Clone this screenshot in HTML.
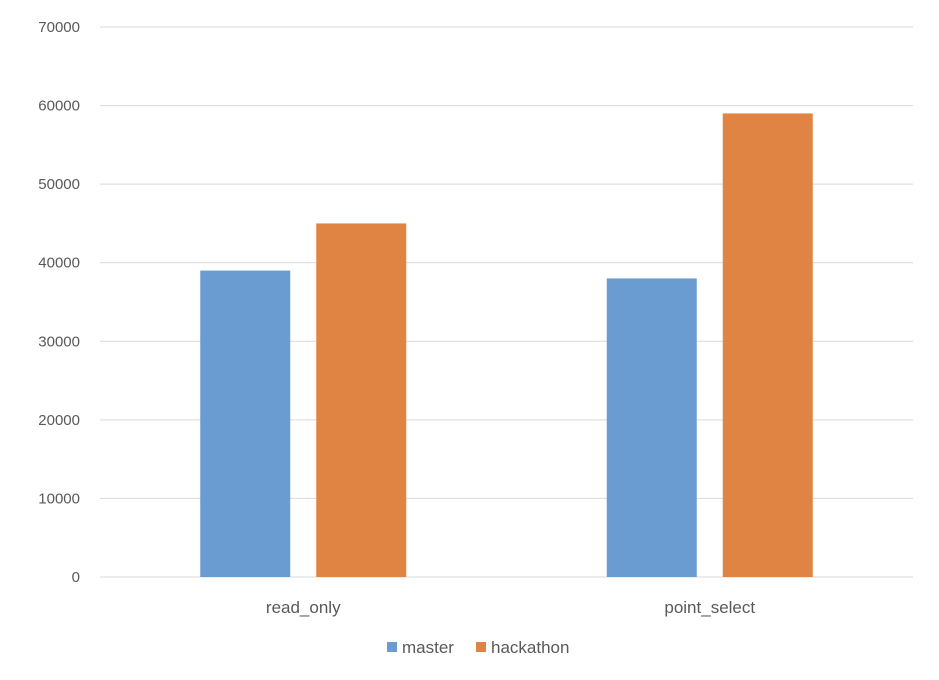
<!DOCTYPE html>
<html><head><meta charset="utf-8"><style>
body{margin:0;background:#fff;width:939px;height:675px;overflow:hidden;font-family:"Liberation Sans",sans-serif;}
</style></head><body>
<svg id="chart" width="939" height="675" xmlns="http://www.w3.org/2000/svg"></svg>
<script>
const categories = ["read_only", "point_select"];
const masterValues = [39000, 38000];
const hackathonValues = [45000, 59000];
const yTicks = [0, 10000, 20000, 30000, 40000, 50000, 60000, 70000];
const seriesNames = ["master", "hackathon"];

const svg = document.getElementById('chart');
const NS = 'http://www.w3.org/2000/svg';
const x0 = 100, x1 = 913, yTop = 27, yBot = 577, yMax = 70000;
const y = v => yBot - (v / yMax) * (yBot - yTop);
const catW = (x1 - x0) / categories.length;
const cx = i => x0 + catW * (i + 0.5);
const barW = 90, gap = 26;
function mk(tag, attrs){const e=document.createElementNS(NS,tag);for(const k in attrs)e.setAttribute(k,attrs[k]);svg.appendChild(e);return e;}

yTicks.forEach(t=>{
  const l = mk('line',{x1:x0,x2:x1,y1:y(t),y2:y(t),stroke:'#d9d9d9','stroke-width':1});
  
  
  const tx = mk('text',{x:80,y:y(t)+5,'text-anchor':'end','font-size':15,fill:'#595959'});
  tx.textContent = t;
  
  
});

const colors = ['#6a9cd2','#e08443'];
[masterValues, hackathonValues].forEach((vals, s)=>{
  vals.forEach((v,i)=>{
    const bx = s===0 ? cx(i) - gap/2 - barW : cx(i) + gap/2;
    const r = mk('rect',{x:bx,y:y(v),width:barW,height:yBot-y(v),fill:colors[s]});
    
    
  });
});

categories.forEach((c,i)=>{
  const t = mk('text',{x:cx(i),y:613,'text-anchor':'middle','font-size':17,fill:'#595959'});
  t.textContent = c;
  
  
});

const lx = [387, 476];
seriesNames.forEach((n,s)=>{
  const r = mk('rect',{x:lx[s],y:642,width:10,height:10,fill:colors[s]});
  
  
  const t = mk('text',{x:lx[s]+15,y:653,'font-size':17,fill:'#595959'});
  t.textContent = n;
  
  
});
</script>
</body></html>
